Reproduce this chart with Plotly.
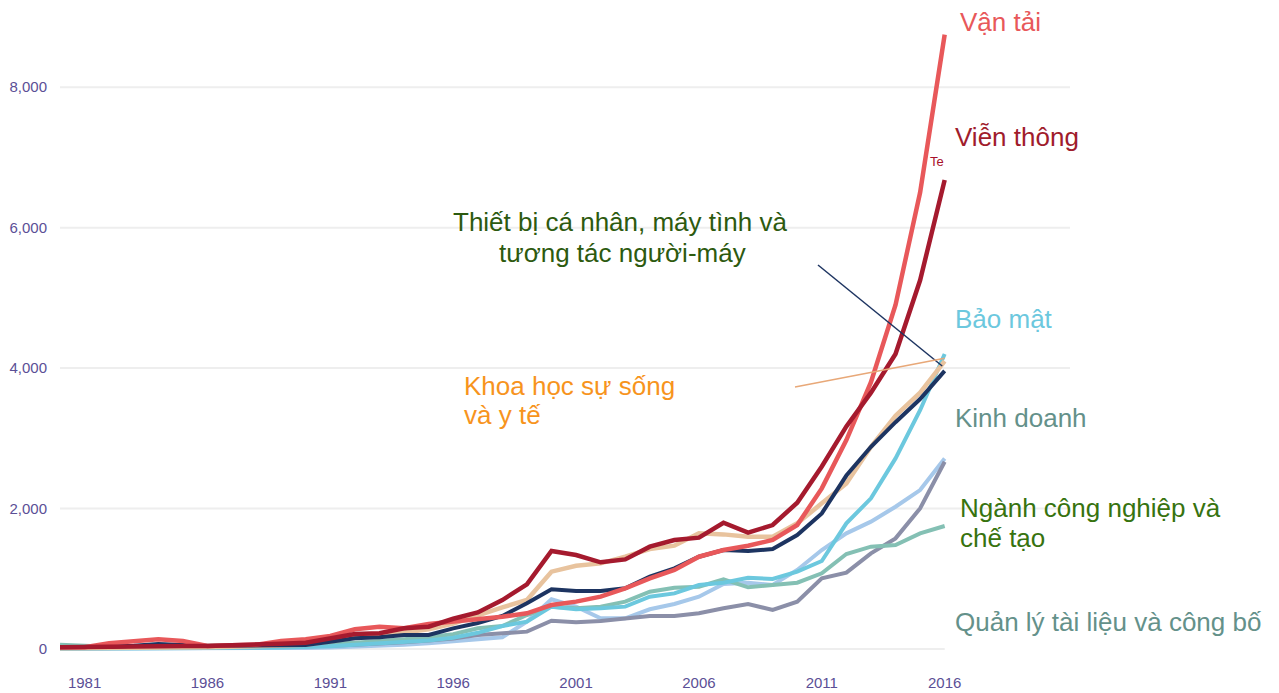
import plotly.graph_objects as go

years = list(range(1980, 2017))

van_tai = [24, 25, 81, 104, 138, 114, 43, 52, 62, 114, 138, 185, 280, 318, 294, 356, 389, 413,
           460, 508, 626, 674, 745, 864, 1006, 1125, 1314, 1409, 1471, 1552, 1765, 2287, 2975,
           3800, 4900, 6500, 8750]
vien_thong = [24, 30, 35, 40, 43, 43, 43, 50, 57, 75, 90, 152, 213, 223, 294, 318, 430, 520,
              697, 920, 1395, 1338, 1234, 1276, 1457, 1552, 1585, 1798, 1656, 1765, 2083, 2600,
              3170, 3650, 4200, 5250, 6680]
thiet_bi = [24, 20, 30, 45, 71, 57, 43, 45, 50, 55, 57, 104, 152, 166, 199, 199, 294, 370,
            470, 650, 849, 826, 826, 864, 1030, 1148, 1314, 1409, 1395, 1423, 1623, 1931, 2470,
            2880, 3230, 3560, 3960]
khoa_hoc = [10, 10, 12, 15, 18, 20, 25, 30, 40, 50, 60, 110, 170, 190, 230, 280, 360, 480,
            593, 697, 1101, 1186, 1219, 1314, 1423, 1471, 1647, 1632, 1599, 1599, 1789, 2074,
            2358, 2880, 3320, 3650, 4100]
bao_mat = [5, 5, 5, 8, 10, 10, 12, 15, 18, 20, 25, 40, 60, 80, 100, 120, 160, 230, 327, 389,
           603, 565, 579, 603, 745, 792, 911, 944, 1015, 996, 1101, 1253, 1789, 2145, 2714,
           3400, 4200]
kinh_doanh = [2, 2, 3, 4, 5, 5, 6, 8, 10, 12, 15, 20, 30, 40, 60, 80, 110, 150, 166, 389, 707,
              603, 437, 437, 565, 641, 745, 925, 944, 911, 1125, 1409, 1647, 1813, 2026, 2263,
              2714]
quan_ly = [10, 10, 10, 12, 15, 15, 18, 20, 25, 30, 35, 45, 60, 75, 95, 120, 150, 199, 223, 247,
           403, 380, 399, 437, 470, 470, 508, 579, 641, 555, 674, 1006, 1087, 1362, 1575, 2002,
           2667]
cong_nghiep = [60, 40, 30, 30, 35, 35, 40, 40, 45, 50, 55, 70, 90, 110, 140, 170, 210, 294, 327,
               484, 603, 579, 603, 674, 816, 873, 887, 992, 878, 911, 944, 1077, 1352, 1457, 1480,
               1647, 1751]

y_ticks = [0, 2000, 4000, 6000, 8000]
x_ticks = [1981, 1986, 1991, 1996, 2001, 2006, 2011, 2016]

# draw order: bottom first
series = [
    ("Kinh doanh", kinh_doanh, "#a6c8ea", 4),
    ("Quản lý tài liệu và công bố", quan_ly, "#8b8fa8", 4),
    ("Ngành công nghiệp và chế tạo", cong_nghiep, "#84c0b4", 4),
    ("Bảo mật", bao_mat, "#6cc8de", 4),
    ("Khoa học sự sống và y tế", khoa_hoc, "#e8c39e", 4.5),
    ("Thiết bị cá nhân, máy tình và tương tác người-máy", thiet_bi, "#1d3461", 4),
    ("Vận tải", van_tai, "#e8585a", 4.5),
    ("Viễn thông", vien_thong, "#a51a2e", 4.5),
]

fig = go.Figure()
for name, vals, color, w in series:
    fig.add_trace(go.Scatter(x=years, y=vals, mode="lines", name=name,
                             line=dict(color=color, width=w), showlegend=False))

X_MIN, X_MAX = 1980, 2021.1
Y_MIN, Y_MAX = -100, 9000
L, T, R, B = 52, 9, 217, 45
W, H = 1279, 693
PW, PH = W - L - R, H - T - B
OFF = 8  # page offset of the figure


def px2x(px):
    return X_MIN + (px - OFF - L) / PW * (X_MAX - X_MIN)


def py2y(py):
    return Y_MAX - (py - OFF - T) / PH * (Y_MAX - Y_MIN)


shapes = []
for v in y_ticks:
    shapes.append(dict(type="line", xref="x", yref="y", x0=X_MIN, x1=(years[-1] if v == 0 else X_MAX),
                       y0=v, y1=v, line=dict(color="#eeeeee", width=2), layer="below"))

# callout lines to series end points
shapes.append(dict(type="line", xref="x", yref="y", x0=px2x(818), y0=py2y(265),
                   x1=years[-1] - 0.1, y1=thiet_bi[-1] + 70,
                   line=dict(color="#1d3461", width=1.5)))
shapes.append(dict(type="line", xref="x", yref="y", x0=px2x(795), y0=py2y(387),
                   x1=years[-1], y1=khoa_hoc[-1] + 40,
                   line=dict(color="#e8a878", width=1.5)))

FF = "Liberation Sans, Arial, sans-serif"
FS = 26


def ann(text, px, py, color, size=FS, xanchor="left"):
    return dict(text=text, x=px2x(px), y=py2y(py), xref="x", yref="y", showarrow=False,
                xanchor=xanchor, yanchor="middle",
                font=dict(family=FF, size=size, color=color))


annotations = [
    ann("Vận tải", 958, 22, "#e8585a"),
    ann("Viễn thông", 953, 137, "#a01c2c"),
    ann("Te", 928, 161, "#a8102a", size=13),
    ann("Thiết bị cá nhân, máy tình và", 620, 222, "#2d5a0f", xanchor="center"),
    ann("tương tác người-máy", 622, 253, "#2d5a0f", xanchor="center"),
    ann("Bảo mật", 953, 319, "#6cc8de"),
    ann("Khoa học sự sống", 462, 386, "#f7941d"),
    ann("và y tế", 462, 415, "#f7941d"),
    ann("Kinh doanh", 953, 418, "#64918a"),
    ann("Ngành công nghiệp và", 958, 508, "#37730f"),
    ann("chế tạo", 958, 538, "#37730f"),
    ann("Quản lý tài liệu và công bố", 953, 622, "#64918a"),
]

fig.update_layout(
    width=W, height=H,
    margin=dict(l=L, r=R, t=T, b=B),
    paper_bgcolor="white", plot_bgcolor="white",
    shapes=shapes, annotations=annotations,
    xaxis=dict(range=[X_MIN, X_MAX], tickvals=x_ticks, showgrid=False, zeroline=False,
               showline=False, ticks="outside", ticklen=13, tickcolor="rgba(0,0,0,0)",
               automargin=False,
               tickfont=dict(family=FF, size=15, color="#5b4f96")),
    yaxis=dict(range=[Y_MIN, Y_MAX], tickvals=y_ticks, tickformat=",", showgrid=False,
               zeroline=False, showline=False, ticks="outside", ticklen=9,
               tickcolor="rgba(0,0,0,0)", automargin=False,
               tickfont=dict(family=FF, size=15, color="#5b4f96")),
    hovermode="closest",
)

fig.write_html("out.html")
